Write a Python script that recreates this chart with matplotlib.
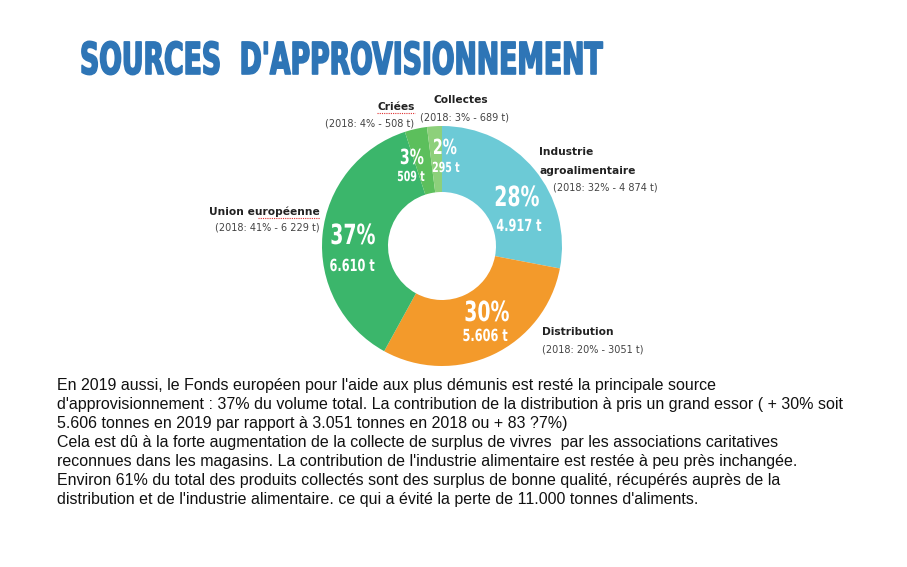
import matplotlib
matplotlib.use("Agg")
import matplotlib.pyplot as plt
from matplotlib import patheffects
from matplotlib.transforms import Affine2D

W, H = 907, 567

# --- data (2019) ---
sources = ["Industrie agroalimentaire", "Distribution", "Union européenne", "Criées", "Collectes"]
shares = [28, 30, 37, 3, 2]                      # % of total volume
tonnes = ["4.917 t", "5.606 t", "6.610 t", "509 t", "295 t"]
prev_2018 = ["(2018: 32% - 4 874 t)", "(2018: 20% - 3051 t)", "(2018: 41% - 6 229 t)",
             "(2018: 4% - 508 t)", "(2018: 3% - 689 t)"]
colors = ["#6ccad6", "#f39a2b", "#3bb66b", "#5cbf5c", "#8dd07b"]

body = ("En 2019 aussi, le Fonds européen pour l'aide aux plus démunis est resté la principale source\n"
        "d'approvisionnement : 37% du volume total. La contribution de la distribution à pris un grand essor ( + 30% soit\n"
        "5.606 tonnes en 2019 par rapport à 3.051 tonnes en 2018 ou + 83 ?7%)\n"
        "Cela est dû à la forte augmentation de la collecte de surplus de vivres  par les associations caritatives\n"
        "reconnues dans les magasins. La contribution de l'industrie alimentaire est restée à peu près inchangée.\n"
        "Environ 61% du total des produits collectés sont des surplus de bonne qualité, récupérés auprès de la\n"
        "distribution et de l'industrie alimentaire. ce qui a évité la perte de 11.000 tonnes d'aliments.")


class Condense(patheffects.AbstractPathEffect):
    """Squeeze text horizontally (no condensed font installed), optional
    vertical stretch about the baseline and a same-colour stroke."""

    def __init__(self, sx, about="center", sy=1.0, lw=0):
        super().__init__()
        self.sx, self.sy, self.about, self.lw = sx, sy, about, lw

    def draw_path(self, renderer, gc, tpath, affine, rgbFace=None):
        xs = affine.transform(tpath.vertices)[:, 0]
        xa = {"left": xs.min(), "right": xs.max()}.get(self.about, (xs.min() + xs.max()) / 2)
        ya = affine.transform((0, 0))[1]
        aff = affine + (Affine2D().translate(-xa, -ya)
                        .scale(self.sx, self.sy).translate(xa, ya))
        renderer.draw_path(gc, tpath, aff, rgbFace)
        if self.lw:
            gc0 = renderer.new_gc()
            gc0.copy_properties(gc)
            gc0.set_linewidth(self.lw)
            gc0.set_foreground(rgbFace)
            renderer.draw_path(gc0, tpath, aff, None)
            gc0.restore()


fig = plt.figure(figsize=(W / 100, H / 100), dpi=100)
ax = fig.add_axes([0, 0, 1, 1])

# donut, clockwise from 12 o'clock
cx, cy, r = 442, H - 246, 120
ax.pie(shares, colors=colors, startangle=90, counterclock=False,
       center=(cx, cy), radius=r,
       wedgeprops=dict(width=66, edgecolor="none"))
ax.set_xlim(0, W)
ax.set_ylim(0, H)
ax.set_aspect("equal")
ax.axis("off")


def py(y):
    return H - y


# title
ax.text(80, py(74), "SOURCES  D'APPROVISIONNEMENT", family="DejaVu Sans", weight="bold",
        fontsize=24, color="#2e75b6", va="baseline", ha="left",
        path_effects=[Condense(0.80, "left", sy=1.32, lw=1.2)])

# white labels in the ring: (share position, tonnes position, share size, tonnes size)
inner = [((517, 198), (519, 226), 20, 12),
         ((487, 313), (485, 336), 20, 12),
         ((353, 236), (352, 266), 20, 12),
         ((412, 158), (411, 177), 15, 10),
         ((445, 148), (446, 168), 15, 10)]
for (p1, p2, fs1, fs2), s, t in zip(inner, shares, tonnes):
    ax.text(p1[0], py(p1[1]), f"{s}%", family="DejaVu Sans", weight="bold", fontsize=fs1,
            color="white", ha="center", va="center", path_effects=[Condense(0.68)])
    ax.text(p2[0], py(p2[1]), t, family="DejaVu Sans", weight="bold", fontsize=fs2,
            color="white", ha="center", va="center", path_effects=[Condense(0.68)])

lab = dict(family="DejaVu Sans", weight="bold", fontsize=7.7, color="#222222", va="center")
sub = dict(family="DejaVu Sans", fontsize=7, color="#444444", va="center")

ax.text(539, py(152), "Industrie", ha="left", **lab)
ax.text(539, py(171), "agroalimentaire", ha="left", **lab)
ax.text(553, py(188), prev_2018[0], ha="left", **sub)
ax.text(542, py(332), sources[1], ha="left", **lab)
ax.text(542, py(350), prev_2018[1], ha="left", **sub)
ax.text(320, py(212), sources[2], ha="right", **lab)
ax.text(320, py(228), prev_2018[2], ha="right", **sub)
ax.text(396, py(107), sources[3], ha="center", **lab)
ax.text(370, py(124), prev_2018[3], ha="center", **sub)
ax.text(461, py(100), sources[4], ha="center", **lab)
ax.text(465, py(118), prev_2018[4], ha="center", **sub)

# spell-check squiggles seen in the source slide
ax.plot([377, 415], [py(113), py(113)], color="#e03030", lw=0.8, ls=(0, (1, 1)))
ax.plot([258, 320], [py(218), py(218)], color="#e03030", lw=0.8, ls=(0, (1, 1)))

ax.text(57, py(378), body, family=["Liberation Sans", "DejaVu Sans"], fontsize=11.5,
        color="#111111", ha="left", va="top", linespacing=1.34)

fig.savefig("out.png", dpi=100)
